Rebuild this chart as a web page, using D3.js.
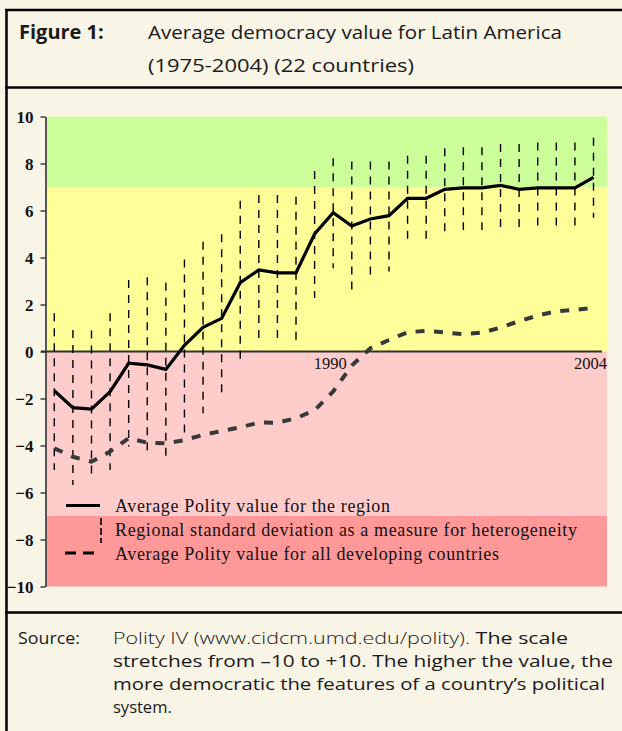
<!DOCTYPE html>
<html>
<head>
<meta charset="utf-8">
<script src="https://cdn.jsdelivr.net/npm/d3@7"></script>
<style>
  html, body { margin: 0; padding: 0; background: #f8f4e6; }
  svg { display: block; }
</style>
</head>
<body>
<svg id="chart" width="622" height="731"></svg>
<script>
// ---- data ----
const years = d3.range(1975, 2005);
const regionAvg = [-1.67, -2.39, -2.45, -1.71, -0.50, -0.57, -0.76, 0.26, 1.03, 1.41,
                   2.93, 3.47, 3.35, 3.35, 5.0, 5.91, 5.34, 5.64, 5.78, 6.52,
                   6.52, 6.90, 6.96, 6.96, 7.07, 6.90, 6.96, 6.96, 6.96, 7.41];
const sdHigh = [1.63, 0.91, 0.89, 1.63, 3.04, 3.16, 2.93, 3.92, 4.67, 4.99,
                6.42, 6.66, 6.66, 6.59, 7.68, 8.22, 8.08, 8.08, 8.08, 8.33,
                8.33, 8.65, 8.69, 8.69, 8.83, 8.83, 8.89, 8.89, 8.89, 9.10];
const sdLow  = [-5.04, -5.68, -5.40, -5.04, -4.04, -4.33, -4.48, -3.45, -2.63, -1.95,
                -0.50, 0.42, 0.46, 0.35, 2.28, 3.54, 2.62, 3.16, 3.40, 4.71,
                4.71, 5.07, 5.17, 5.17, 5.27, 5.20, 5.27, 5.27, 5.27, 5.69];
const developingAvg = [-4.12, -4.48, -4.69, -4.26, -3.69, -3.88, -3.91, -3.77, -3.55, -3.38,
                       -3.23, -3.02, -3.03, -2.84, -2.50, -1.70, -0.60, 0.14, 0.49, 0.82,
                       0.88, 0.81, 0.74, 0.80, 1.02, 1.29, 1.53, 1.71, 1.77, 1.86];
const yTicks = [-10, -8, -6, -4, -2, 0, 2, 4, 6, 8, 10];
const xLabels = [1990, 2004];
const bandFrom = [7, 0, -7, -10];
const bandTo   = [10, 7, 0, -7];
const bandColors = ["#ccff99", "#ffff99", "#ffcccc", "#ff9999"];
const legendLabels = [
  "Average Polity value for the region",
  "Regional standard deviation as a measure for heterogeneity",
  "Average Polity value for all developing countries"
];
const titleLabel = "Figure 1:";
const titleLines = ["Average democracy value for Latin America", "(1975-2004) (22 countries)"];
const sourceLabel = "Source:";
const sourceLines = [
  [["Polity IV (www.cidcm.umd.edu/polity).", 300], [" The scale", 400]],
  [["stretches from \u201310 to +10. The higher the value, the", 400]],
  [["more democratic the features of a country\u2019s political", 400]],
  [["system.", 400]]
];

// ---- layout ----
const svg = d3.select("#chart");
const plotLeft = 47, plotRight = 607;
const x = d3.scaleLinear().domain([1975, 2004]).range([54.3, 593.5]);
const y = d3.scaleLinear().domain([-10, 10]).range([586.5, 116.5]);

// frame
const frame = svg.append("g").attr("stroke", "#000").attr("stroke-width", 2.5);
frame.append("line").attr("x1", 5).attr("x2", 622).attr("y1", 10).attr("y2", 10);
frame.append("line").attr("x1", 6.5).attr("x2", 6.5).attr("y1", 9).attr("y2", 731);
frame.append("line").attr("x1", 5).attr("x2", 622).attr("y1", 87.5).attr("y2", 87.5);
frame.append("line").attr("x1", 5).attr("x2", 622).attr("y1", 612.5).attr("y2", 612.5);

// title
const sans = "'Open Sans', 'Noto Sans', sans-serif";
const ink = "#1a1a1a";
const titleWidths = [414, 266];
titleLines.forEach((t, i) => {
  svg.append("text").attr("x", 148).attr("y", 39 + i * 33).attr("font-family", sans)
    .attr("font-size", 18).attr("fill", ink)
    .attr("textLength", titleWidths[i]).attr("lengthAdjust", "spacingAndGlyphs").text(t);
});
svg.append("text").attr("x", 19).attr("y", 39).attr("font-family", sans)
  .attr("font-weight", 700).attr("font-size", 20).attr("fill", ink).text(titleLabel);

// bands
svg.append("g").selectAll("rect").data(bandFrom).join("rect")
  .attr("x", plotLeft).attr("width", plotRight - plotLeft)
  .attr("y", (d, i) => y(bandTo[i]))
  .attr("height", (d, i) => y(d) - y(bandTo[i]))
  .attr("fill", (d, i) => bandColors[i]);

// y axis
const serif = "'Liberation Serif', 'Times New Roman', serif";
const yAxis = svg.append("g").attr("transform", "translate(45.5,0)")
  .call(d3.axisLeft(y).tickValues(yTicks).tickSize(5).tickSizeOuter(0).tickPadding(7)
        .tickFormat(d3.format("d")));
yAxis.select(".domain").attr("stroke", "#222").attr("stroke-width", 1.5);
yAxis.selectAll(".tick line").attr("stroke", "#222").attr("stroke-width", 1.3);
yAxis.selectAll(".tick text").attr("font-family", serif).attr("font-weight", 700)
  .attr("font-size", 17).attr("fill", "#111").attr("dy", "0.34em");

// zero line
svg.append("line").attr("x1", 41).attr("x2", 602).attr("y1", y(0)).attr("y2", y(0))
  .attr("stroke", "#333").attr("stroke-width", 2);

// x labels
svg.append("g").selectAll("text").data(xLabels).join("text")
  .attr("x", d => x(d) - 3).attr("y", y(0) + 17).attr("text-anchor", "middle")
  .attr("font-family", serif).attr("font-size", 16.5).attr("fill", "#111")
  .text(d => d);

// std dev bars
svg.append("g").selectAll("line").data(years).join("line")
  .attr("x1", d => x(d)).attr("x2", d => x(d))
  .attr("y1", (d, i) => y(sdHigh[i])).attr("y2", (d, i) => y(sdLow[i]))
  .attr("stroke", "#000").attr("stroke-width", 1.4).attr("stroke-dasharray", "8,7");

// developing countries dashed line
const line = d3.line().x(d => x(d[0])).y(d => y(d[1]));
svg.append("path").datum(years.map((yr, i) => [yr, developingAvg[i]]))
  .attr("d", line).attr("fill", "none").attr("stroke", "#383838")
  .attr("stroke-width", 4).attr("stroke-dasharray", "9,9.5");

// region average line
svg.append("path").datum(years.map((yr, i) => [yr, regionAvg[i]]))
  .attr("d", line).attr("fill", "none").attr("stroke", "#000")
  .attr("stroke-width", 3.2).attr("stroke-linejoin", "miter");

// legend
const lg = svg.append("g");
const legendY = [505.5, 529.5, 553];
const legendWidths = [275, 462, 384];
lg.append("line").attr("x1", 66).attr("x2", 100).attr("y1", legendY[0]).attr("y2", legendY[0])
  .attr("stroke", "#000").attr("stroke-width", 3);
lg.append("line").attr("x1", 101).attr("x2", 101).attr("y1", 518).attr("y2", 543)
  .attr("stroke", "#000").attr("stroke-width", 1.6).attr("stroke-dasharray", "7,3");
lg.append("line").attr("x1", 65).attr("x2", 100).attr("y1", legendY[2]).attr("y2", legendY[2])
  .attr("stroke", "#000").attr("stroke-width", 3).attr("stroke-dasharray", "11,7");
lg.selectAll("text").data(legendLabels).join("text")
  .attr("x", 115).attr("y", (d, i) => legendY[i] + 6.5)
  .attr("font-family", serif).attr("font-size", 18).attr("fill", "#111")
  .attr("textLength", (d, i) => legendWidths[i]).attr("lengthAdjust", "spacing")
  .text(d => d);

// source
const srcWidths = [455, 500, 492, null];
sourceLines.forEach((parts, i) => {
  const t = svg.append("text").attr("x", 113).attr("y", 644 + i * 23)
    .attr("font-family", sans).attr("font-size", 16.5).attr("fill", ink);
  if (srcWidths[i]) t.attr("textLength", srcWidths[i]).attr("lengthAdjust", "spacingAndGlyphs");
  parts.forEach(p => t.append("tspan").attr("font-weight", p[1]).text(p[0]));
});
svg.append("text").attr("x", 18).attr("y", 644).attr("font-family", sans)
  .attr("font-size", 16.5).attr("fill", ink)
  .attr("textLength", 62).attr("lengthAdjust", "spacingAndGlyphs").text(sourceLabel);
</script>
</body>
</html>
